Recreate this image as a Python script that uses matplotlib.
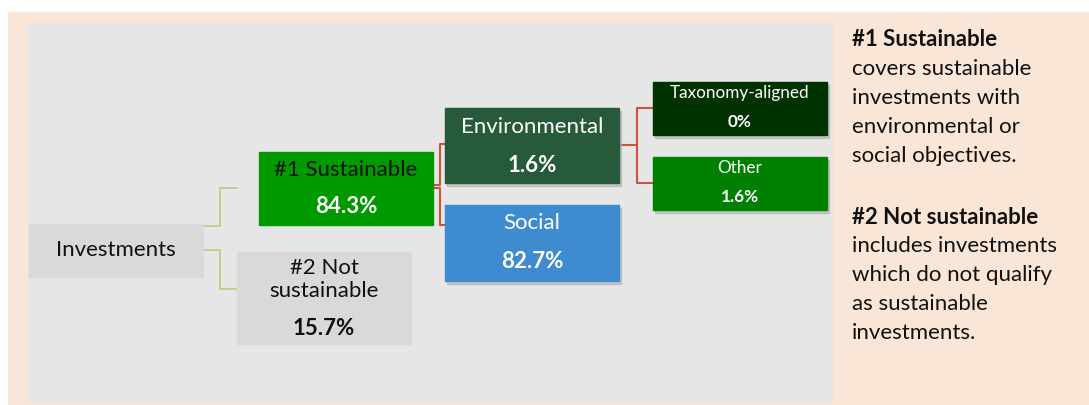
import matplotlib.pyplot as plt
from matplotlib.patches import Rectangle

# node labels and shares (in %)
labels = ["Investments", "#1 Sustainable", "#2 Not\nsustainable",
          "Environmental", "Social", "Taxonomy-aligned", "Other"]
shares = [None, 84.3, 15.7, 1.6, 82.7, 0, 1.6]

# box layout in pixel coordinates: x0, y0, x1, y1
boxes = [(29, 224, 203, 277), (259, 152, 433, 225), (237, 252, 411, 344),
         (445, 108, 619, 183), (445, 205, 619, 281), (653, 82, 827, 135),
         (653, 157, 827, 210)]
face = ["#d9d9d9", "#009900", "#d9d9d9", "#265a3a", "#3f8bd0", "#003300", "#008000"]
name_col = ["#111111", "#111111", "#111111", "white", "white", "white", "white"]
val_col = [None, "white", "#111111", "white", "white", "white", "white"]
name_size = [16, 16, 16, 16, 16, 12.3, 12.3]
# relative vertical position of name / value inside each box
name_pos = [0.5, 0.25, 0.30, 0.25, 0.24, 0.21, 0.21]
val_pos = [None, 0.75, 0.83, 0.76, 0.74, 0.75, 0.75]

note_head = ["#1 Sustainable", "#2 Not sustainable"]
note_body = [["covers sustainable", "investments with", "environmental or", "social objectives."],
             ["includes investments", "which do not qualify", "as sustainable", "investments."]]

plt.rcParams['font.family'] = ['Lato', 'DejaVu Sans']

fig = plt.figure(figsize=(10.89, 4.05), dpi=100)
ax = fig.add_axes([0, 0, 1, 1])
ax.set_xlim(0, 1089)
ax.set_ylim(405, 0)
ax.axis('off')

# backgrounds
ax.add_patch(Rectangle((8, 12), 1081, 393, color="#fae6d6", zorder=0))
ax.add_patch(Rectangle((28, 23), 804, 379, color="#e6e6e6", zorder=1))

# connectors
yel = "#c9c27a"
ax.plot([203, 220, 220, 237], [226, 226, 188, 188], color=yel, lw=1.2, zorder=2)
ax.plot([203, 220, 220, 237], [250, 250, 289, 289], color=yel, lw=1.2, zorder=2)
red = "#c9553a"
ax.plot([433, 440, 440, 445], [185, 185, 144, 144], color=red, lw=1.5, zorder=2)
ax.plot([433, 440, 440, 445], [188, 188, 225, 225], color=red, lw=1.5, zorder=2)
ax.plot([619, 637, 637, 653], [145, 145, 108, 108], color=red, lw=1.5, zorder=2)
ax.plot([637, 637, 653], [145, 183, 183], color=red, lw=1.5, zorder=2)

for i, (x0, y0, x1, y1) in enumerate(boxes):
    if i >= 3:
        # soft shadow under the coloured boxes
        ax.add_patch(Rectangle((x0 + 2, y0 + 3), x1 - x0, y1 - y0,
                               color="#b0b0b0", alpha=0.6, zorder=2))
    ax.add_patch(Rectangle((x0, y0), x1 - x0, y1 - y0, color=face[i], zorder=3))
    cx = (x0 + x1) / 2
    h = y1 - y0
    ax.text(cx, y0 + h * name_pos[i], labels[i], ha='center', va='center',
            fontsize=name_size[i], color=name_col[i], zorder=4, linespacing=1.2)
    if shares[i] is not None:
        ax.text(cx, y0 + h * val_pos[i], f"{shares[i]:g}%", ha='center', va='center',
                fontsize=name_size[i], color=val_col[i], fontweight='bold', zorder=4)

# explanatory notes on the right
for k, y in enumerate([40, 217]):
    ax.text(852, y, note_head[k], ha='left', va='center', fontsize=16,
            fontweight='bold', color="#111111")
    for j, line in enumerate(note_body[k]):
        ax.text(852, y + 29 * (j + 1), line, ha='left', va='center', fontsize=16,
                color="#111111")

fig.savefig("out.png", dpi=100)
